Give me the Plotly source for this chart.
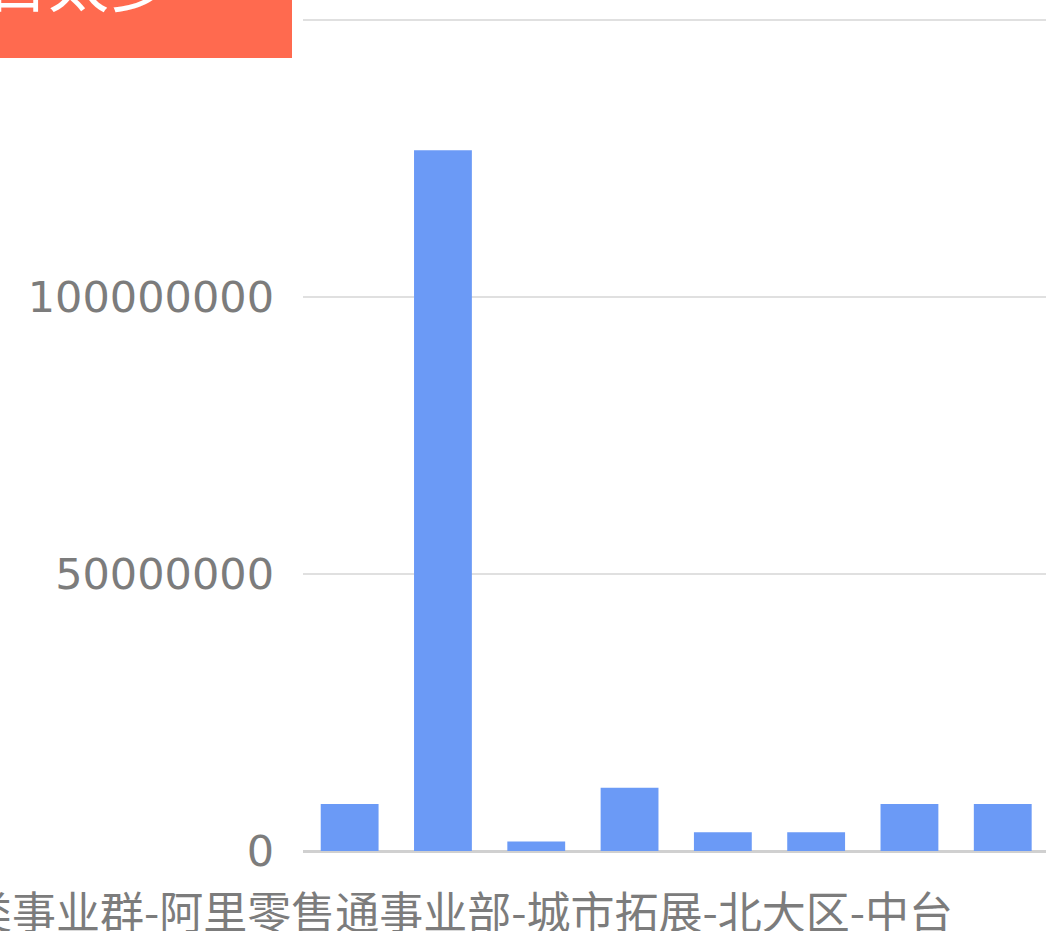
import plotly.graph_objects as go

# Bar data: one value per department
categories = ["部门1", "部门2", "部门3", "部门4", "部门5", "部门6", "部门7", "部门8"]
values = [8.5e6, 126.5e6, 1.7e6, 11.4e6, 3.4e6, 3.4e6, 8.5e6, 8.5e6]

# Y-axis ticks
y_tickvals = [0, 50000000, 100000000, 150000000]
y_ticktext = ["0", "50000000", "100000000", ""]

# Only one category label survives the overlap, drawn below the axis
axis_label = "类事业群-阿里零售通事业部-城市拓展-北大区-中台"
banner_text = "类目太多"

W, H = 1046, 931
ML, MR, MT, MB = 303, 0, 10, 80
PW, PH = W - ML - MR, H - MT - MB
Y_PER_PX = 50000000 / 277.0  # value units per pixel on the y-axis


def px_x(px):
    return (px - ML) / PW


def px_y(py):
    return (H - MB - py) / PH


fig = go.Figure(
    go.Bar(
        x=categories,
        y=values,
        marker=dict(color="#6b9af6", line=dict(width=0)),
        hoverinfo="skip",
    )
)

fig.update_layout(
    width=W,
    height=H,
    margin=dict(l=ML, r=MR, t=MT, b=MB, pad=0),
    paper_bgcolor="white",
    plot_bgcolor="white",
    bargap=0.38,
    showlegend=False,
    font=dict(family="DejaVu Sans", color="#7c7c7c"),
)

fig.update_xaxes(
    type="category",
    range=[-0.5, -0.5 + PW / 93.3],
    showticklabels=False,
    showgrid=False,
    zeroline=False,
    showline=False,
    ticks="",
)

fig.update_yaxes(
    range=[0, PH * Y_PER_PX],
    tickvals=y_tickvals,
    ticktext=y_ticktext,
    tickfont=dict(family="DejaVu Sans", size=43, color="#7c7c7c"),
    ticklabelstandoff=28,
    showgrid=True,
    gridcolor="#e0e0e0",
    gridwidth=2,
    zeroline=True,
    zerolinecolor="#d0d0d0",
    zerolinewidth=3,
    showline=False,
    ticks="",
)

# Red banner in the top-left corner
fig.add_shape(
    type="rect",
    xref="paper",
    yref="paper",
    x0=px_x(-10),
    x1=px_x(292),
    y0=px_y(58),
    y1=px_y(-10),
    fillcolor="#ff6a4f",
    line=dict(width=0),
    layer="above",
)

fig.add_annotation(
    text=banner_text,
    xref="paper",
    yref="paper",
    x=px_x(172),
    y=px_y(-19),
    xanchor="right",
    yanchor="middle",
    showarrow=False,
    font=dict(family="Noto Sans CJK SC", size=61, color="white"),
)

fig.add_annotation(
    text=axis_label,
    xref="paper",
    yref="paper",
    x=px_x(955),
    y=px_y(910),
    xanchor="right",
    yanchor="middle",
    showarrow=False,
    font=dict(family="Noto Sans CJK SC", size=44, color="#7c7c7c"),
)

fig.write_html("out.html")
